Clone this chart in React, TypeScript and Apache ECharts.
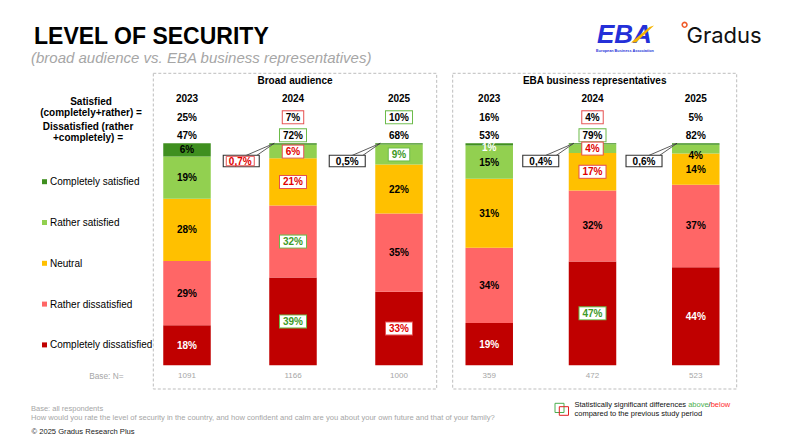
import React, { useEffect, useRef } from "react";
import * as echarts from "echarts";

// ---------- DATA ----------
const panelTitles = ["Broad audience", "EBA business representatives"];
const years = ["2023", "2024", "2025"];
const baseN = [
  [1091, 1166, 1000],
  [359, 472, 523],
];
const satisfiedTotal = [
  [25, 7, 10],
  [16, 4, 5],
];
const dissatisfiedTotal = [
  [47, 72, 68],
  [53, 79, 82],
];
// significance vs previous period: 1 = above, -1 = below, 0 = none
const sigSatisfiedTotal = [
  [0, -1, 1],
  [0, -1, 0],
];
const sigDissatisfiedTotal = [
  [0, 1, 0],
  [0, 1, 0],
];

const seriesNames = [
  "Completely dissatisfied",
  "Rather dissatisfied",
  "Neutral",
  "Rather satisfied",
  "Completely satisfied",
];
const completelyDissatisfied = [
  [18, 39, 33],
  [19, 47, 44],
];
const ratherDissatisfied = [
  [29, 32, 35],
  [34, 32, 37],
];
const neutral = [
  [28, 21, 22],
  [31, 17, 14],
];
const ratherSatisfied = [
  [19, 6, 9],
  [15, 4, 4],
];
const completelySatisfied = [
  [6, 0.7, 0.5],
  [1, 0.4, 0.6],
];
const sigCompletelyDissatisfied = [
  [0, 1, -1],
  [0, 1, 0],
];
const sigRatherDissatisfied = [
  [0, 1, 0],
  [0, 0, 0],
];
const sigNeutral = [
  [0, -1, 0],
  [0, -1, 0],
];
const sigRatherSatisfied = [
  [0, -1, 1],
  [0, -1, 0],
];
const sigCompletelySatisfied = [
  [0, -1, 0],
  [0, 0, 0],
];

// ---------- STYLE ----------
const FONT = '"Liberation Sans", Arial, Helvetica, sans-serif';
const segColors = ["#C00000", "#FF6666", "#FFC000", "#92D050", "#3F8F1F"];
const segTextColors = ["#FFFFFF", "#000000", "#000000", "#000000", "#000000"];
const GREEN_TXT = "#3E9A26";
const GREEN_BORDER = "#6CBB4A";
const RED_TXT = "#E00000";
const RED_BORDER = "#E65050";
const BAR_W = 47.5;
const GRID_TOP = 143.3;
const GRID_H = 222;

const fmtPct = (v: number) => String(v).replace(".", ",") + "%";

export default function App() {
  const ref = useRef<HTMLDivElement>(null);

  useEffect(() => {
    const chart = echarts.init(ref.current!, null, { renderer: "svg" });

    const segValues = [
      completelyDissatisfied,
      ratherDissatisfied,
      neutral,
      ratherSatisfied,
      completelySatisfied,
    ];
    const segSig = [
      sigCompletelyDissatisfied,
      sigRatherDissatisfied,
      sigNeutral,
      sigRatherSatisfied,
      sigCompletelySatisfied,
    ];
    // small label nudges (layout only)
    const labelTweaks: Record<string, { offset?: number[]; color?: string }> = {
      "1-4-0": { offset: [0, 3], color: "#FFFFFF" },
      "1-3-2": { offset: [0, 6] },
    };

    const grids = [
      { left: 134, top: GRID_TOP, width: 318, height: GRID_H },
      { left: 437.6, top: GRID_TOP, width: 309.8, height: GRID_H },
    ];

    const xAxes: any[] = [];
    // main axes (bottom: Base N)
    [0, 1].forEach((g) => {
      xAxes.push({
        type: "category",
        gridIndex: g,
        position: "bottom",
        data: years,
        axisLine: { show: false },
        axisTick: { show: false },
        splitLine: { show: false },
        axisLabel: {
          interval: 0,
          margin: 6,
          fontSize: 8,
          fontFamily: FONT,
          color: "#A6A6A6",
          formatter: (_v: string, i: number) => String(baseN[g][i]),
        },
      });
    });
    const boxRich = (border: string) => ({
      fontSize: 10,
      fontWeight: "bold",
      fontFamily: FONT,
      color: "#000",
      lineHeight: 10,
      padding: [1, 3, 1, 3],
      borderWidth: 1,
      borderColor: border,
      backgroundColor: border === "transparent" ? "transparent" : "#fff",
    });
    const rich = {
      n: boxRich("transparent"),
      up: boxRich(GREEN_BORDER),
      down: boxRich(RED_BORDER),
    };
    const sigKey = (s: number) => (s > 0 ? "up" : s < 0 ? "down" : "n");
    [0, 1].forEach((g) => {
      // years
      xAxes.push({
        type: "category",
        gridIndex: g,
        position: "top",
        offset: 39,
        data: years,
        axisLine: { show: false },
        axisTick: { show: false },
        splitLine: { show: false },
        axisLabel: {
          interval: 0,
          margin: 0,
          fontSize: 10,
          fontWeight: "bold",
          fontFamily: FONT,
          color: "#000",
          lineHeight: 12,
        },
      });
      // satisfied totals
      xAxes.push({
        type: "category",
        gridIndex: g,
        position: "top",
        offset: 21,
        data: years,
        axisLine: { show: false },
        axisTick: { show: false },
        splitLine: { show: false },
        axisLabel: {
          interval: 0,
          margin: 0,
          rich,
          formatter: (_v: string, i: number) =>
            `{${sigKey(sigSatisfiedTotal[g][i])}|${fmtPct(satisfiedTotal[g][i])}}`,
        },
      });
      // dissatisfied totals
      xAxes.push({
        type: "category",
        gridIndex: g,
        position: "top",
        offset: 3,
        data: years,
        axisLine: { show: false },
        axisTick: { show: false },
        splitLine: { show: false },
        axisLabel: {
          interval: 0,
          margin: 0,
          rich,
          formatter: (_v: string, i: number) =>
            `{${sigKey(sigDissatisfiedTotal[g][i])}|${fmtPct(dissatisfiedTotal[g][i])}}`,
        },
      });
    });

    const yAxes = [0, 1].map((g) => ({
      type: "value",
      gridIndex: g,
      min: 0,
      max: 100,
      show: false,
    }));

    const series: any[] = [];
    [0, 1].forEach((g) => {
      seriesNames.forEach((name, s) => {
        const data = years.map((_y, i) => {
          const v = segValues[s][g][i];
          const total = segValues.reduce((acc, arr) => acc + arr[g][i], 0);
          const share = (v / total) * 100;
          const sig = segSig[s][g][i];
          const tw = labelTweaks[`${g}-${s}-${i}`] || {};
          return {
            value: share,
            label: {
              show: v >= 1,
              formatter: fmtPct(v),
              color: sig > 0 ? GREEN_TXT : sig < 0 ? RED_TXT : tw.color || segTextColors[s],
              backgroundColor: sig ? "#fff" : "transparent",
              borderColor: sig > 0 ? GREEN_BORDER : sig < 0 ? RED_BORDER : "transparent",
              borderWidth: sig ? 1 : 0,
              padding: [1, 3, 1, 3],
              offset: tw.offset || [0, 0],
            },
          };
        });
        series.push({
          type: "bar",
          name,
          xAxisIndex: g,
          yAxisIndex: g,
          stack: "s" + g,
          barWidth: BAR_W,
          itemStyle: { color: segColors[s] },
          label: {
            show: true,
            position: "inside",
            fontSize: 10,
            fontWeight: "bold",
            fontFamily: FONT,
            lineHeight: 10,
            textBorderWidth: 0,
          },
          emphasis: { disabled: true },
          data,
        });
      });
    });

    chart.setOption({
      animation: false,
      textStyle: { fontFamily: FONT },
      grid: grids,
      xAxis: xAxes,
      yAxis: yAxes,
      legend: {
        orient: "vertical",
        left: 37,
        top: 171.7,
        itemGap: 30.8,
        itemWidth: 5,
        itemHeight: 5,
        icon: "rect",
        selectedMode: false,
        data: [...seriesNames].reverse(),
        textStyle: { fontSize: 10, color: "#000", fontFamily: FONT, padding: [0, 0, 0, -2] },
      },
      series,
    });

    // ---------- graphics ----------
    const txt = (text: string, x: number, y: number, o: any = {}) => ({
      type: "text",
      silent: true,
      style: {
        text,
        x,
        y,
        fill: o.fill || "#000",
        fontSize: o.fontSize || 10,
        fontWeight: o.fontWeight || "normal",
        fontStyle: o.fontStyle || "normal",
        fontFamily: o.fontFamily || FONT,
        textAlign: o.align || "left",
        textVerticalAlign: "middle",
        ...(o.lineHeight ? { lineHeight: o.lineHeight } : {}),
        ...(o.rich ? { rich: o.rich } : {}),
      },
      z: o.z || 10,
    });

    const g: any[] = [];
    g.push(txt("LEVEL OF SECURITY", 34, 36.2, { fontSize: 23, fontWeight: "bold", lineHeight: 19 }));
    g.push(
      txt("(broad audience vs. EBA business representatives)", 31, 57.2, {
        fontSize: 15,
        fontStyle: "italic",
        fill: "#A6A6A6",
        lineHeight: 14,
      })
    );
    // panels
    const panelRects = [
      { x: 153.3, y: 73.3, w: 283.4, h: 315.7 },
      { x: 452.7, y: 73.3, w: 284, h: 315.7 },
    ];
    panelRects.forEach((p, i) => {
      g.push({
        type: "rect",
        silent: true,
        shape: { x: p.x, y: p.y, width: p.w, height: p.h },
        style: { fill: "none", stroke: "#BDBDBD", lineWidth: 1, lineDash: [3, 2] },
        z: 1,
      });
      g.push(txt(panelTitles[i], p.x + p.w / 2, 80.5, { fontWeight: "bold", align: "center" }));
    });
    // left header labels
    g.push(txt("Satisfied", 91, 101.7, { fontWeight: "bold", align: "center" }));
    g.push(txt("(completely+rather) =", 91, 112.5, { fontWeight: "bold", align: "center" }));
    g.push(txt("Dissatisfied (rather", 88, 126.7, { fontWeight: "bold", align: "center" }));
    g.push(txt("+completely) =", 88, 137.5, { fontWeight: "bold", align: "center" }));
    g.push(txt("Base: N=", 123.5, 376, { fontSize: 8.3, fill: "#A6A6A6", align: "right" }));
    // footer
    g.push(txt("Base: all respondents", 31, 408.5, { fontSize: 7.5, fill: "#A6A6A6" }));
    g.push(
      txt(
        "How would you rate the level of security in the country, and how confident and calm are you about your own future and that of your family?",
        31,
        417.5,
        { fontSize: 7.6, fill: "#A6A6A6" }
      )
    );
    g.push(txt("\u00A9 2025 Gradus Research Plus", 31.5, 431, { fontSize: 7.6, fill: "#222" }));
    // significance legend
    g.push({
      type: "rect",
      silent: true,
      shape: { x: 555, y: 403.3, width: 9, height: 9.2 },
      style: { fill: "none", stroke: "#4CAF50", lineWidth: 1 },
      z: 10,
    });
    g.push({
      type: "rect",
      silent: true,
      shape: { x: 559.3, y: 406.7, width: 9.2, height: 8.6 },
      style: { fill: "none", stroke: "#E02020", lineWidth: 1 },
      z: 10,
    });
    g.push(
      txt("{t|Statistically significant differences }{g|above}{t|/}{r|below}", 574.5, 404.5, {
        fontSize: 7.5,
        rich: {
          t: { fontSize: 7.5, fill: "#111", fontFamily: FONT },
          g: { fontSize: 7.5, fill: "#4CAF50", fontFamily: FONT },
          r: { fontSize: 7.5, fill: "#FF2A2A", fontFamily: FONT },
        },
      })
    );
    g.push(txt("compared to the previous study period", 574.5, 413.5, { fontSize: 7.5, fill: "#111" }));
    // EBA logo
    g.push(
      txt("EBA", 597, 33.6, {
        fontSize: 26,
        fontWeight: "bold",
        fontStyle: "italic",
        fill: "#2430D8",
        lineHeight: 19,
      })
    );
    g.push({
      type: "polygon",
      silent: true,
      shape: {
        points: [
          [631, 42.5],
          [636, 42.5],
          [654, 25.5],
          [649.5, 27],
        ],
      },
      style: { fill: "#F5B400" },
      z: 11,
    });
    g.push(
      txt("European Business Association", 625, 50.5, {
        fontSize: 3.8,
        fontWeight: "bold",
        fill: "#2430D8",
        align: "center",
        lineHeight: 4,
      })
    );
    // Gradus logo
    g.push({
      type: "circle",
      silent: true,
      shape: { cx: 684.6, cy: 24.8, r: 2.4 },
      style: { fill: "#fff", stroke: "#F05A28", lineWidth: 1.6 },
      z: 10,
    });
    g.push(txt("Gradus", 686.5, 34.8, { fontSize: 22, fill: "#111", fontFamily: "Inter, sans-serif" }));

    // callouts for tiny "completely satisfied" values
    [0, 1].forEach((gi) => {
      years.forEach((_y, i) => {
        const v = completelySatisfied[gi][i];
        if (v >= 1) return;
        const pt = chart.convertToPixel({ xAxisIndex: gi, yAxisIndex: gi } as any, [i, 100]) as number[];
        if (!pt) return;
        const barLeft = pt[0] - BAR_W / 2;
        const apexX = barLeft + 5;
        const apexY = pt[1];
        const boxR = barLeft - 10;
        const boxT = apexY + 12;
        const boxW = 36;
        const boxH = 11.5;
        const sig = sigCompletelySatisfied[gi][i];
        g.push({
          type: "polygon",
          silent: true,
          shape: {
            points: [
              [apexX, apexY],
              [boxR - 3, boxT + 0.5],
              [boxR - 14, boxT + 0.5],
            ],
          },
          style: { fill: "#fff", stroke: "#333", lineWidth: 0.8 },
          z: 20,
        });
        g.push({
          type: "rect",
          silent: true,
          shape: { x: boxR - boxW, y: boxT, width: boxW, height: boxH },
          style: { fill: "#fff", stroke: "#333", lineWidth: 1.1 },
          z: 21,
        });
        if (sig < 0) {
          g.push({
            type: "rect",
            silent: true,
            shape: { x: boxR - boxW + 3, y: boxT + 1, width: boxW - 8, height: boxH - 2 },
            style: { fill: "#fff", stroke: RED_BORDER, lineWidth: 1 },
            z: 22,
          });
        }
        g.push(
          txt(fmtPct(v), boxR - boxW / 2 - (sig < 0 ? 1 : 0), boxT + boxH / 2 + 0.3, {
            fontWeight: "bold",
            align: "center",
            fill: sig > 0 ? GREEN_TXT : sig < 0 ? RED_TXT : "#000",
            z: 23,
          })
        );
      });
    });

    chart.setOption({ graphic: g });

    return () => chart.dispose();
  }, []);

  return (
    <div
      ref={ref}
      style={{ position: "fixed", left: 0, top: 0, width: 800, height: 446, background: "#fff" }}
    />
  );
}
